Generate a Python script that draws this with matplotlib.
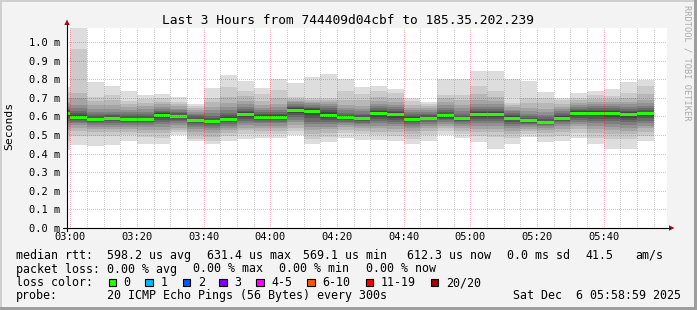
import numpy as np
import matplotlib.pyplot as plt
from matplotlib.patches import Rectangle, Polygon

# 5 minute steps, minutes relative to 03:00 (first one is only partly visible)
step_start = list(range(-5, 175, 5))

# 20 sorted ping round trip times per step (ms)
pings = [
    [0.417, 0.470, 0.500, 0.525, 0.545, 0.562, 0.577, 0.590, 0.602, 0.612, 0.618, 0.625, 0.633, 0.642, 0.652, 0.664, 0.680, 0.700, 0.730, 0.760],
    [0.444, 0.497, 0.524, 0.537, 0.553, 0.563, 0.572, 0.580, 0.586, 0.591, 0.600, 0.608, 0.617, 0.630, 0.645, 0.663, 0.699, 0.726, 0.963, 1.120],
    [0.439, 0.493, 0.515, 0.530, 0.545, 0.556, 0.565, 0.572, 0.578, 0.583, 0.588, 0.594, 0.602, 0.612, 0.625, 0.640, 0.660, 0.685, 0.703, 0.783],
    [0.444, 0.493, 0.515, 0.530, 0.545, 0.556, 0.565, 0.573, 0.580, 0.586, 0.592, 0.598, 0.606, 0.615, 0.626, 0.640, 0.660, 0.690, 0.713, 0.765],
    [0.468, 0.500, 0.518, 0.532, 0.545, 0.555, 0.563, 0.570, 0.576, 0.581, 0.587, 0.594, 0.602, 0.611, 0.622, 0.635, 0.650, 0.668, 0.682, 0.738],
    [0.452, 0.488, 0.512, 0.528, 0.542, 0.553, 0.562, 0.570, 0.576, 0.581, 0.587, 0.594, 0.603, 0.613, 0.625, 0.640, 0.655, 0.672, 0.695, 0.717],
    [0.454, 0.484, 0.510, 0.528, 0.545, 0.558, 0.570, 0.580, 0.590, 0.600, 0.610, 0.616, 0.622, 0.630, 0.640, 0.652, 0.665, 0.680, 0.700, 0.722],
    [0.500, 0.515, 0.527, 0.540, 0.553, 0.565, 0.575, 0.583, 0.590, 0.596, 0.603, 0.610, 0.617, 0.624, 0.632, 0.642, 0.654, 0.667, 0.680, 0.702],
    [0.466, 0.480, 0.500, 0.518, 0.533, 0.545, 0.555, 0.563, 0.570, 0.575, 0.581, 0.588, 0.596, 0.605, 0.615, 0.625, 0.635, 0.645, 0.655, 0.667],
    [0.450, 0.466, 0.490, 0.510, 0.525, 0.537, 0.548, 0.557, 0.564, 0.570, 0.576, 0.583, 0.592, 0.603, 0.617, 0.633, 0.652, 0.675, 0.700, 0.752],
    [0.466, 0.493, 0.512, 0.527, 0.540, 0.551, 0.561, 0.570, 0.577, 0.583, 0.589, 0.596, 0.605, 0.617, 0.632, 0.650, 0.672, 0.705, 0.756, 0.824],
    [0.480, 0.505, 0.525, 0.540, 0.553, 0.565, 0.576, 0.587, 0.596, 0.604, 0.614, 0.622, 0.630, 0.640, 0.652, 0.667, 0.685, 0.710, 0.735, 0.788],
    [0.484, 0.505, 0.522, 0.537, 0.550, 0.562, 0.572, 0.580, 0.587, 0.593, 0.599, 0.606, 0.614, 0.623, 0.634, 0.647, 0.662, 0.682, 0.722, 0.752],
    [0.484, 0.505, 0.522, 0.537, 0.550, 0.562, 0.572, 0.580, 0.587, 0.593, 0.599, 0.606, 0.614, 0.623, 0.635, 0.650, 0.668, 0.700, 0.740, 0.802],
    [0.498, 0.520, 0.540, 0.556, 0.570, 0.583, 0.595, 0.607, 0.617, 0.626, 0.636, 0.643, 0.650, 0.657, 0.665, 0.675, 0.685, 0.695, 0.705, 0.779],
    [0.453, 0.480, 0.505, 0.525, 0.543, 0.558, 0.572, 0.590, 0.605, 0.617, 0.631, 0.638, 0.645, 0.652, 0.660, 0.670, 0.680, 0.690, 0.700, 0.811],
    [0.460, 0.490, 0.512, 0.530, 0.545, 0.558, 0.570, 0.582, 0.593, 0.602, 0.612, 0.622, 0.632, 0.643, 0.655, 0.667, 0.678, 0.690, 0.700, 0.830],
    [0.484, 0.510, 0.527, 0.541, 0.553, 0.563, 0.572, 0.580, 0.586, 0.590, 0.596, 0.602, 0.610, 0.620, 0.632, 0.645, 0.660, 0.690, 0.735, 0.802],
    [0.475, 0.505, 0.522, 0.536, 0.548, 0.558, 0.567, 0.575, 0.581, 0.585, 0.590, 0.597, 0.605, 0.615, 0.627, 0.641, 0.657, 0.690, 0.722, 0.759],
    [0.471, 0.498, 0.518, 0.535, 0.550, 0.563, 0.575, 0.587, 0.598, 0.607, 0.619, 0.627, 0.636, 0.645, 0.655, 0.667, 0.682, 0.703, 0.738, 0.765],
    [0.466, 0.495, 0.515, 0.532, 0.547, 0.560, 0.572, 0.583, 0.594, 0.604, 0.614, 0.622, 0.630, 0.639, 0.649, 0.661, 0.676, 0.698, 0.726, 0.749],
    [0.450, 0.480, 0.503, 0.522, 0.538, 0.550, 0.561, 0.570, 0.578, 0.583, 0.589, 0.596, 0.604, 0.613, 0.623, 0.634, 0.646, 0.660, 0.684, 0.700],
    [0.470, 0.500, 0.520, 0.536, 0.550, 0.561, 0.570, 0.578, 0.584, 0.588, 0.592, 0.598, 0.605, 0.613, 0.622, 0.632, 0.643, 0.655, 0.667, 0.680],
    [0.502, 0.520, 0.535, 0.548, 0.560, 0.570, 0.579, 0.587, 0.594, 0.600, 0.607, 0.614, 0.622, 0.632, 0.645, 0.660, 0.680, 0.700, 0.717, 0.800],
    [0.482, 0.505, 0.522, 0.537, 0.550, 0.561, 0.570, 0.577, 0.583, 0.586, 0.590, 0.596, 0.604, 0.614, 0.627, 0.643, 0.662, 0.690, 0.717, 0.800],
    [0.460, 0.492, 0.515, 0.534, 0.550, 0.563, 0.575, 0.586, 0.596, 0.605, 0.615, 0.622, 0.630, 0.640, 0.652, 0.667, 0.687, 0.720, 0.765, 0.846],
    [0.427, 0.490, 0.515, 0.534, 0.550, 0.563, 0.575, 0.586, 0.596, 0.605, 0.615, 0.622, 0.630, 0.640, 0.652, 0.665, 0.682, 0.705, 0.738, 0.846],
    [0.450, 0.482, 0.505, 0.522, 0.537, 0.549, 0.560, 0.570, 0.578, 0.584, 0.592, 0.600, 0.609, 0.618, 0.627, 0.637, 0.648, 0.660, 0.672, 0.802],
    [0.487, 0.505, 0.520, 0.533, 0.544, 0.553, 0.561, 0.567, 0.572, 0.575, 0.579, 0.585, 0.592, 0.601, 0.612, 0.627, 0.645, 0.670, 0.700, 0.788],
    [0.462, 0.490, 0.510, 0.525, 0.537, 0.547, 0.555, 0.561, 0.566, 0.568, 0.571, 0.577, 0.585, 0.595, 0.607, 0.622, 0.642, 0.670, 0.700, 0.730],
    [0.466, 0.495, 0.515, 0.532, 0.546, 0.558, 0.568, 0.576, 0.583, 0.588, 0.594, 0.601, 0.609, 0.618, 0.628, 0.640, 0.653, 0.667, 0.690, 0.700],
    [0.484, 0.510, 0.530, 0.546, 0.560, 0.572, 0.583, 0.593, 0.602, 0.611, 0.620, 0.627, 0.634, 0.641, 0.650, 0.660, 0.672, 0.688, 0.700, 0.726],
    [0.451, 0.485, 0.510, 0.530, 0.547, 0.562, 0.575, 0.588, 0.600, 0.610, 0.621, 0.628, 0.636, 0.645, 0.655, 0.666, 0.678, 0.695, 0.713, 0.735],
    [0.423, 0.480, 0.505, 0.526, 0.545, 0.560, 0.574, 0.587, 0.599, 0.610, 0.621, 0.628, 0.636, 0.645, 0.655, 0.666, 0.678, 0.693, 0.708, 0.749],
    [0.423, 0.478, 0.503, 0.523, 0.540, 0.555, 0.568, 0.580, 0.592, 0.603, 0.614, 0.622, 0.631, 0.641, 0.652, 0.664, 0.678, 0.700, 0.726, 0.783],
    [0.466, 0.495, 0.517, 0.535, 0.551, 0.565, 0.577, 0.589, 0.600, 0.609, 0.618, 0.626, 0.635, 0.645, 0.656, 0.670, 0.688, 0.720, 0.761, 0.797],
]

# median rtt per step (ms), drawn as the green line
medians = [0.615, 0.595, 0.585, 0.589, 0.584, 0.584, 0.607, 0.600, 0.578, 0.573,
           0.586, 0.609, 0.596, 0.596, 0.631, 0.624, 0.607, 0.593, 0.587, 0.613,
           0.609, 0.586, 0.589, 0.604, 0.588, 0.610, 0.610, 0.588, 0.577, 0.569,
           0.591, 0.616, 0.616, 0.616, 0.609, 0.613]

time_ticks = [0, 20, 40, 60, 80, 100, 120, 140, 160]
time_labels = ["03:00", "03:20", "03:40", "04:00", "04:20", "04:40", "05:00", "05:20", "05:40"]
y_ticks = [0.0, 0.1, 0.2, 0.3, 0.4, 0.5, 0.6, 0.7, 0.8, 0.9, 1.0]

loss_labels = ["0", "1", "2", "3", "4-5", "6-10", "11-19", "20/20"]
loss_colors = ["#26ff00", "#00b8ff", "#0059ff", "#7e00ff", "#ff00ff", "#ff5500", "#ff0000", "#a00000"]

title = "Last 3 Hours from 744409d04cbf to 185.35.202.239"

MONO = "DejaVu Sans Mono"
W, H = 697, 310
BG = "#f3f3f3"

fig = plt.figure(figsize=(W / 100, H / 100), dpi=100, facecolor=BG)

# plot area on whole pixels: x 67..667, y 28..228 from the top
px_per_ms = 186.0
ax = fig.add_axes([67 / W, 82 / H, 600 / W, 200 / H])
ax.set_facecolor("white")
ax.set_xlim(-1.02, 178.98)
ax.set_ylim(0, 200 / px_per_ms)
for s in ax.spines.values():
    s.set_visible(False)

# smoke: band k spans ping k .. ping 21-k, darker towards the middle
arr = np.array(pings)
x = np.array(step_start)
for j in range(10):
    g = int(190 / 10 * (10 - (j + 1))) + 50
    col = "#%02x%02x%02x" % (g, g, g)
    ax.bar(x, arr[:, 19 - j] - arr[:, j], bottom=arr[:, j], width=5, align="edge",
           color=col, linewidth=0, antialiased=False, zorder=1)

# median line
mh = 3 / px_per_ms
ax.bar(x, mh, bottom=np.array(medians) - mh / 2, width=5, align="edge",
       color=loss_colors[0], linewidth=0, antialiased=False, zorder=2)

# dotted grid on top of the data (1 px on, 1 px off; offset by half a pixel
# because snapping moves the line ends onto pixel centres)
dots = (0.5, (1, 1))
red = (1, 0, 0, 0.3)
grey = (0.5, 0.5, 0.5, 0.38)
for v in y_ticks[1:]:
    ax.axhline(v, color=red, lw=0.72, ls=dots, snap=True, zorder=3)
for m in range(5, 179, 5):
    if m % 20:
        ax.axvline(m, color=grey, lw=0.72, ls=dots, snap=True, zorder=3)
for m in time_ticks:
    ax.axvline(m, color=red, lw=0.72, ls=dots, snap=True, zorder=3)

ax.set_xticks(time_ticks)
ax.set_xticklabels(time_labels, fontfamily=MONO, fontsize=7.5)
ax.set_yticks(y_ticks)
ax.set_yticklabels([f"{v:.1f} m" for v in y_ticks], fontfamily=MONO, fontsize=7.5)
ax.tick_params(axis="x", length=0, pad=3)
ax.tick_params(axis="y", length=0, pad=5)

# overlay in pixel coordinates for frame, axis arrows and legend
ov = fig.add_axes([0, 0, 1, 1], zorder=10)
ov.set_xlim(0, W)
ov.set_ylim(H, 0)
ov.axis("off")
ov.patch.set_alpha(0)

ov.add_patch(Rectangle((0, 0), W, 2, color="#cfcfcf", lw=0))
ov.add_patch(Rectangle((0, 0), 2, H, color="#cfcfcf", lw=0))
ov.add_patch(Rectangle((0, H - 3), W, 3, color="#9e9e9e", lw=0))
ov.add_patch(Rectangle((W - 3, 0), 3, H, color="#9e9e9e", lw=0))

ov.plot([67, 67], [231, 24], color="black", lw=0.8)
ov.plot([63, 670], [228, 228], color="black", lw=0.8)
ov.add_patch(Polygon([[64.3, 25], [69.7, 25], [67, 19.5]], color="#a01010", lw=0))
ov.add_patch(Polygon([[669, 225.3], [669, 230.7], [674.5, 228]], color="#a01010", lw=0))

ov.text(348, 24, title, fontfamily=MONO, fontsize=9.3, ha="center", va="baseline")
ov.text(9.5, 126, "Seconds", fontfamily=MONO, fontsize=8.2, rotation=90,
        ha="center", va="center")
ov.text(687, 5, "RRDTOOL / TOBI OETIKER", fontfamily=MONO, fontsize=6.2,
        rotation=270, ha="center", va="top", color="#aaaaaa")

fs = 8.4
rows = [259, 272.5, 286, 299.3]
row1 = [(16, "median rtt:"), (107.3, "598.2 us avg"), (207.3, "631.4 us max"),
        (302.7, "569.1 us min"), (406.7, "612.3 us now"), (506.7, "0.0 ms sd"),
        (585, "41.5"), (635, "am/s")]
row2 = [(16, "packet loss:"), (107.3, "0.00 % avg"), (193.3, "0.00 % max"),
        (279.3, "0.00 % min"), (366, "0.00 % now")]
for xx, t in row1:
    ov.text(xx, rows[0], t, fontfamily=MONO, fontsize=fs, va="baseline")
for xx, t in row2:
    ov.text(xx, rows[1], t, fontfamily=MONO, fontsize=fs, va="baseline")

ov.text(16, rows[2], "loss color:", fontfamily=MONO, fontsize=fs, va="baseline")
box_x = [108.7, 145.3, 182.7, 219.3, 256, 307.3, 365.7, 430.7]
for bx, lab, c in zip(box_x, loss_labels, loss_colors):
    ov.add_patch(Rectangle((bx, 278.8), 7.5, 7.5, facecolor=c, edgecolor="black", lw=0.8))
    ov.text(bx + 15, rows[2], lab, fontfamily=MONO, fontsize=fs, va="baseline")

ov.text(16, rows[3], "probe:", fontfamily=MONO, fontsize=fs, va="baseline")
ov.text(107.3, rows[3], "20 ICMP Echo Pings (56 Bytes) every 300s", fontfamily=MONO,
        fontsize=fs, va="baseline")
ov.text(513.3, rows[3], "Sat Dec  6 05:58:59 2025", fontfamily=MONO, fontsize=fs,
        va="baseline")

fig.savefig("out.png", dpi=100, facecolor=BG)
